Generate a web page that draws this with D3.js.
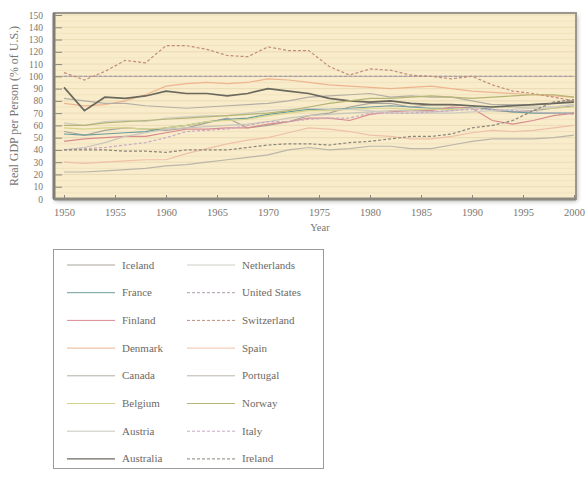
<!DOCTYPE html>
<html><head><meta charset="utf-8">
<script src="https://cdn.jsdelivr.net/npm/d3@7"></script>
<style>html,body{margin:0;padding:0;background:#fff;}svg{display:block;}</style>
</head><body>
<svg id="c" width="585" height="477"></svg>
<script>
const years = [1950,1952,1954,1956,1958,1960,1962,1964,1966,1968,1970,1972,1974,1976,1978,1980,1982,1984,1986,1988,1990,1992,1994,1996,1998,2000];
const yTicks = [0,10,20,30,40,50,60,70,80,90,100,110,120,130,140,150];
const xTicks = [1950,1955,1960,1965,1970,1975,1980,1985,1990,1995,2000];

const iceland     = [55,52,56,58,57,56,58,62,66,58,60,63,68,70,75,78,78,75,77,77,76,72,71,72,74,76];
const france      = [53,52,53,54,55,58,60,63,65,66,69,71,73,73,74,75,76,75,74,74,75,73,71,70,70,70];
const finland     = [47,49,50,51,51,54,57,57,58,58,61,63,66,66,64,69,71,72,72,75,74,64,61,64,68,70];
const denmark     = [78,76,77,80,85,92,94,95,94,95,98,97,95,93,92,91,90,91,92,90,88,87,86,85,84,83];
const canada      = [82,80,78,78,76,75,74,75,76,77,78,80,83,84,85,86,83,84,83,83,80,77,77,77,78,80];
const belgium     = [58,57,58,58,57,58,60,63,64,65,68,70,72,72,73,74,74,73,73,73,74,75,75,74,74,75];
const austria     = [40,42,46,51,54,57,58,59,60,61,63,66,68,69,70,71,72,72,71,72,74,75,75,75,75,77];
const australia   = [91,72,83,82,84,88,86,86,84,86,90,88,86,82,80,79,80,78,77,77,76,75,76,77,78,79];
const netherlands = [62,60,63,64,63,66,67,68,68,70,72,73,74,73,73,72,70,70,70,70,71,72,73,74,75,77];
const unitedStates= [100,100,100,100,100,100,100,100,100,100,100,100,100,100,100,100,100,100,100,100,100,100,100,100,100,100];
const switzerland = [103,97,104,113,111,125,125,122,117,116,124,121,121,108,101,106,105,101,100,98,100,93,88,86,83,80];
const spain       = [30,29,30,31,32,32,37,41,45,48,50,54,58,57,55,52,51,49,49,51,54,56,55,56,58,60];
const portugal    = [22,22,23,24,25,27,28,30,32,34,36,40,42,40,41,43,43,41,41,44,47,49,49,49,50,52];
const norway      = [60,60,62,63,64,65,66,67,68,69,70,72,75,78,80,82,82,83,84,83,82,83,84,85,85,83];
const italy       = [40,41,42,44,46,50,55,56,57,60,63,63,65,66,66,70,70,70,71,72,73,73,72,71,70,69];
const ireland     = [40,40,40,39,39,38,40,40,40,42,44,45,45,44,46,47,49,51,51,53,58,60,64,72,79,81];

const names = ["Iceland","France","Finland","Denmark","Canada","Belgium","Austria","Australia",
               "Netherlands","United States","Switzerland","Spain","Portugal","Norway","Italy","Ireland"];
const values = [iceland,france,finland,denmark,canada,belgium,austria,australia,
                netherlands,unitedStates,switzerland,spain,portugal,norway,italy,ireland];
const colors = ["#a9a49b","#6e9c9c","#d98a8f","#eeb48f","#b4afa5","#d6d28c","#c8c5bd","#6b695e",
                "#cfccc4","#a99cab","#c28c7c","#efc0a8","#bbb6aa","#b5b574","#c7aac3","#8a8478"];
const dashes = [null,null,null,null,null,null,null,null,
                null,"3,2","3,2",null,null,null,"3,2","3,2"];
const widths = [1.2,1.2,1.2,1.2,1.2,1.2,1.2,1.7,1.2,1.2,1.2,1.2,1.2,1.2,1.2,1.2];

const svg = d3.select("#c");
const L=54,R=576,T=13,B=199;
const x = d3.scaleLinear().domain([1950,2000]).range([64,574]);
const y = d3.scaleLinear().domain([0,150]).range([B,15]);

const defs = svg.append("defs");
const f = defs.append("filter").attr("id","sh").attr("x","-5%").attr("y","-5%").attr("width","110%").attr("height","115%");
f.append("feGaussianBlur").attr("in","SourceAlpha").attr("stdDeviation",2.5);
f.append("feOffset").attr("dx",1).attr("dy",2).attr("result","b");
f.append("feComponentTransfer").append("feFuncA").attr("type","linear").attr("slope",0.35);
const fm = f.append("feMerge"); fm.append("feMergeNode"); fm.append("feMergeNode").attr("in","SourceGraphic");
defs.append("clipPath").attr("id","clip").append("rect").attr("x",L).attr("y",T).attr("width",R-L).attr("height",B-T);

svg.append("rect").attr("x",L).attr("y",T).attr("width",R-L).attr("height",B-T)
  .attr("fill","#f8ecca").attr("filter","url(#sh)");

// gridlines
svg.append("g").selectAll("line").data(yTicks.filter(d=>d>0)).join("line")
  .attr("x1",L).attr("x2",R).attr("y1",d=>y(d)).attr("y2",d=>y(d))
  .attr("stroke",d=>d===100?"#b8ab9c":"#eadbb4").attr("stroke-width",1);
svg.append("g").selectAll("line").data(yTicks.slice(0,-1).map(d=>d+5)).join("line")
  .attr("x1",L).attr("x2",R).attr("y1",d=>y(d)).attr("y2",d=>y(d))
  .attr("stroke","#f1e3c0").attr("stroke-width",1);

// series
const line = d3.line().x((d,i)=>x(years[i])).y(d=>y(d));
const g = svg.append("g").attr("clip-path","url(#clip)");
values.forEach((v,k)=>{
  g.append("path").datum(v).attr("d",line).attr("fill","none")
   .attr("stroke",colors[k]).attr("stroke-width",widths[k])
   .attr("stroke-dasharray",dashes[k]);
});

// frame
svg.append("rect").attr("x",L).attr("y",T).attr("width",R-L).attr("height",B-T)
  .attr("fill","none").attr("stroke","#9b978d").attr("stroke-width",2);
svg.append("line").attr("x1",L).attr("x2",L).attr("y1",T).attr("y2",B).attr("stroke","#7f7c74").attr("stroke-width",3);
svg.append("line").attr("x1",L).attr("x2",R).attr("y1",B).attr("y2",B).attr("stroke","#8c8980").attr("stroke-width",3);

// axes
const yAx = d3.axisLeft(y).tickValues(yTicks).tickSize(-8).tickPadding(11);
const ya = svg.append("g").attr("transform",`translate(${L},0)`).call(yAx);
ya.select(".domain").remove();
ya.selectAll("line").attr("stroke","#8a877f");
ya.selectAll("text").attr("font-family","Liberation Serif").attr("font-size",9.5).attr("fill","#7a7670");

const xAx = d3.axisBottom(x).tickValues(xTicks).tickFormat(d3.format("d")).tickSize(-4).tickPadding(10);
const xa = svg.append("g").attr("transform",`translate(0,${B})`).call(xAx);
xa.select(".domain").remove();
xa.selectAll("line").attr("stroke","#8a877f");
xa.selectAll("text").attr("font-family","Liberation Serif").attr("font-size",10.5).attr("fill","#7a7670");

svg.append("text").attr("x",320).attr("y",231).attr("text-anchor","middle")
  .attr("font-family","Liberation Serif").attr("font-size",10.5).attr("fill","#7a7670").text("Year");
svg.append("text").attr("transform","translate(18,106) rotate(-90)").attr("text-anchor","middle")
  .attr("font-family","Liberation Serif").attr("font-size",12).attr("fill","#7a7670")
  .attr("textLength",160).attr("lengthAdjust","spacingAndGlyphs")
  .text("Real GDP per Person (% of U.S.)");

// legend
const lg = svg.append("g");
lg.append("rect").attr("x",53.5).attr("y",249.5).attr("width",270).attr("height",219)
  .attr("fill","#fff").attr("stroke","#9a9a9a").attr("stroke-width",1);
names.forEach((n,k)=>{
  const col = k<8?0:1, row = k%8;
  const lx = col? 187:67, ty = 265 + row*27.7;
  lg.append("line").attr("x1",lx).attr("x2",lx+48).attr("y1",ty).attr("y2",ty)
    .attr("stroke",colors[k]).attr("stroke-width",k===7?1.4:1).attr("stroke-dasharray",dashes[k]);
  lg.append("text").attr("x",lx+55).attr("y",ty+3.5)
    .attr("font-family","Liberation Serif").attr("font-size",11).attr("fill","#6e6a64").text(n);
});
</script>
</body></html>
